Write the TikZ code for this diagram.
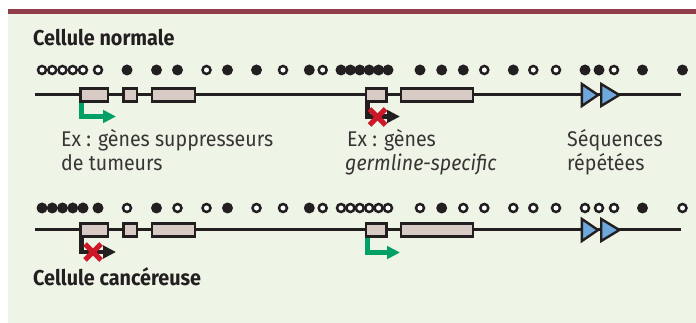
\documentclass[tikz,border=0pt]{standalone}
\usepackage{fontspec}
\setmainfont{Fira Sans}[FakeStretch=0.92]
\usetikzlibrary{arrows.meta,calc}
\definecolor{ink}{RGB}{35,31,32}
\definecolor{bgc}{RGB}{238,244,230}
\definecolor{barc}{RGB}{146,62,74}
\definecolor{exonfill}{RGB}{216,203,198}
\definecolor{promc}{RGB}{0,160,102}
\definecolor{repc}{RGB}{111,168,220}
\definecolor{xred}{RGB}{205,24,40}
\tikzset{
  dna/.style={draw=ink, line width=3pt},
  exon/.style={draw=ink, line width=2.4pt, fill=exonfill, rectangle, minimum height=13pt, inner sep=0pt},
  dotf/.style={circle, fill=ink, minimum size=11pt, inner sep=0pt},
  doto/.style={circle, fill=white, draw=ink, line width=2.5pt, minimum size=8pt, inner sep=0pt},
  promgo/.style={draw=promc, line width=4.5pt, -{Triangle[length=13pt,width=12.5pt]}},
  promoff/.style={draw=ink, line width=4.5pt, -{Triangle[length=13pt,width=12.5pt]}},
  xmark/.style={draw=xred, line width=5pt},
  repeatseq/.style={draw=ink, fill=repc, line width=2.4pt, line join=miter},
  head/.style={anchor=base west, inner sep=0pt, text=ink, font=\fontsize{21.5}{24}\selectfont\bfseries},
  lab/.style={anchor=base west, inner sep=0pt, text=ink!90, font=\fontsize{21.3}{24}\selectfont},
}
\begin{document}
\begin{tikzpicture}[x=1pt,y=-1pt]
\useasboundingbox (0,0) rectangle (696,323);
\fill[bgc] (8,14) rectangle (696,323);
\fill[barc] (8,9) rectangle (696,14);

\node[head] (t1) at (33,46) {Cellule normale};
\node[head] (t2) at (33,285) {Cellule cancéreuse};

% ---- row 1 ----
\foreach \x/\t [count=\i] in {42/o,52.25/o,62.5/o,72.75/o,83/o,98/o,127/f,156.5/f,177.5/f,206.5/o,227.5/f,256.5/f,283/o,309.3/f,322.7/o,341/f,350.4/f,359.8/f,369.2/f,378.6/f,388/f,420/f,441.7/f,463.3/f,484.3/o,513.3/f,533.3/o,556/o,585/f,599/f,614/o,642.5/f,682.5/f}
  \node[dot\t] (a\i) at (\x,70) {};

\coordinate (s1) at (35,95);
\coordinate (e1) at (681,95);
\draw[dna] (s1) -- (e1);
\node[exon, minimum width=27.6pt] (b1) at (94.3,95) {};
\node[exon, minimum width=13.6pt] (b2) at (130.3,95) {};
\node[exon, minimum width=42.9pt] (b3) at (173.3,95) {};
\node[exon, minimum width=20.3pt] (b4) at (376.3,95) {};
\node[exon, minimum width=71.9pt] (b5) at (437.2,95) {};
\draw[repeatseq] (581.9,84) -- (598,95) -- (581.9,106) -- cycle;
\draw[repeatseq] (601.2,84) -- (619.3,95) -- (601.2,106) -- cycle;

\coordinate (p1) at (116,116.5);
\draw[promgo] ([xshift=2.4pt]b1.south west) |- (p1);
\coordinate (q1) at (400,116.5);
\draw[promoff] ([xshift=2.4pt]b4.south west) |- (q1);
\coordinate (x1) at (377.5,117);
\draw[xmark] ($(x1)+(-8,-8)$) -- ($(x1)+(8,8)$);
\draw[xmark] ($(x1)+(-8,8)$) -- ($(x1)+(8,-8)$);

\node[lab] (l1) at (61,146.5) {Ex : gènes suppresseurs};
\node[lab] (l2) at (61,170.5) {de tumeurs};
\node[lab] (l3) at (347,146.5) {Ex : gènes};
\node[lab, font=\fontsize{21.3}{24}\selectfont\itshape] (l4) at (345,170.5) {germline-specific};
\node[lab] (l5) at (567,146.5) {Séquences};
\node[lab] (l6) at (567,170.5) {répétées};

% ---- row 2 ----
\foreach \x/\t [count=\i] in {42/f,52.25/f,62.5/f,72.75/f,83/f,98/f,127/o,156.5/f,177.5/o,206.5/o,227.5/f,256.5/o,283/o,309.3/f,322.7/o,341/o,350.4/o,359.8/o,369.2/o,378.6/o,388/o,420/o,441.7/f,463.3/o,484.3/o,513.3/o,533.3/o,556/o,585/o,599/o,614/o,642.5/f,682.5/o}
  \node[dot\t] (c\i) at (\x,208) {};

\coordinate (s2) at (35,230);
\coordinate (e2) at (681,230);
\draw[dna] (s2) -- (e2);
\node[exon, minimum width=27.6pt] (d1) at (94.3,230) {};
\node[exon, minimum width=13.6pt] (d2) at (130.3,230) {};
\node[exon, minimum width=42.9pt] (d3) at (173.3,230) {};
\node[exon, minimum width=20.3pt] (d4) at (376.3,230) {};
\node[exon, minimum width=71.9pt] (d5) at (437.2,230) {};
\draw[repeatseq] (581.9,219) -- (598,230) -- (581.9,241) -- cycle;
\draw[repeatseq] (601.2,219) -- (619.3,230) -- (601.2,241) -- cycle;

\coordinate (p2) at (400,252.5);
\draw[promgo] ([xshift=2.4pt]d4.south west) |- (p2);
\coordinate (q2) at (116,252);
\draw[promoff] ([xshift=2.4pt]d1.south west) |- (q2);
\coordinate (x2) at (93,252);
\draw[xmark] ($(x2)+(-8,-8)$) -- ($(x2)+(8,8)$);
\draw[xmark] ($(x2)+(-8,8)$) -- ($(x2)+(8,-8)$);
\end{tikzpicture}
\end{document}
